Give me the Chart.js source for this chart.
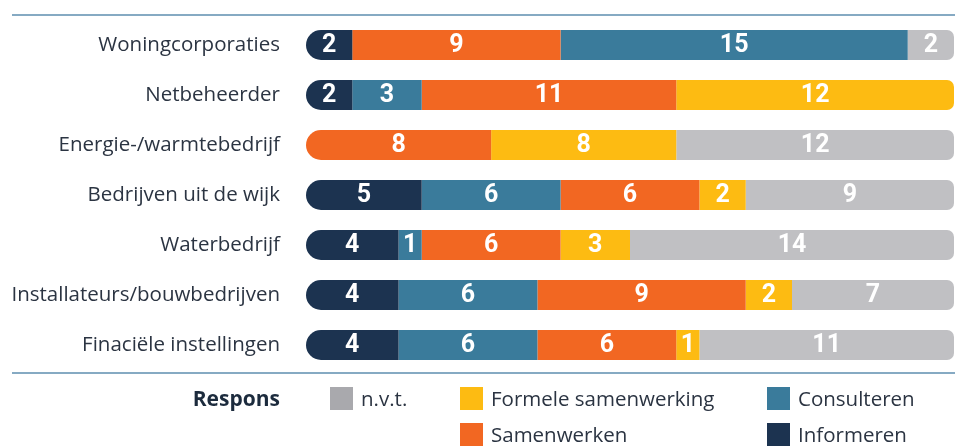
<!DOCTYPE html>
<html>
<head>
<meta charset="utf-8">
<script src="https://cdn.jsdelivr.net/npm/chart.js@4/dist/chart.umd.min.js"></script>
<style>
  body { margin: 0; background: #fff; }
  #wrap { position: relative; width: 955px; height: 446px; overflow: hidden; font-family: "Open Sans", sans-serif; }
  #wrap canvas { position: absolute; left: 0; top: 0; }
  .lijn { position: absolute; left: 12px; right: 0; height: 2px; background: #86aac3; }
  .leg { position: absolute; font-size: 20.5px; color: #2b3442; line-height: 24px; white-space: nowrap; }
  .leg i { position: absolute; width: 23px; height: 23px; left: 0; top: 0; }
  .leg span { position: absolute; top: -1px; white-space: nowrap; }
  #respons { position: absolute; right: 675px; top: 384px; font-weight: bold; font-size: 21px; color: #1c2b3d; }
</style>
</head>
<body>
<div id="wrap">
  <canvas id="grafiek" width="955" height="446"></canvas>
  <div class="lijn" style="top:14px"></div>
  <div class="lijn" style="top:372px"></div>
  <div id="respons">Respons</div>
  <div id="legenda"></div>
</div>
<script>
const categorieen = [
  "Woningcorporaties",
  "Netbeheerder",
  "Energie-/warmtebedrijf",
  "Bedrijven uit de wijk",
  "Waterbedrijf",
  "Installateurs/bouwbedrijven",
  "Finaciële instellingen"
];

const informeren  = [2, 2, 0, 5, 4, 4, 4];
const consulteren = [15, 3, 0, 6, 1, 6, 6];
const samenwerken = [9, 11, 8, 6, 6, 9, 6];
const formeel     = [0, 12, 8, 2, 3, 2, 1];
const nvt         = [2, 0, 12, 9, 14, 7, 11];

const reeksen = {
  inf: { naam: "Informeren", data: informeren, kleur: "#1c3350" },
  con: { naam: "Consulteren", data: consulteren, kleur: "#3a7b9b" },
  sam: { naam: "Samenwerken", data: samenwerken, kleur: "#f26722" },
  frm: { naam: "Formele samenwerking", data: formeel, kleur: "#fdbb12" },
  nvt: { naam: "n.v.t.", data: nvt, kleur: "#c0c0c3" }
};

// volgorde van de segmenten per balk (bij woningcorporaties staat samenwerken voor consulteren)
const standaard = ["inf", "con", "sam", "frm", "nvt"];
const volgorde = categorieen.map((c, i) => i === 0 ? ["inf", "sam", "con", "frm", "nvt"] : standaard);

const datasets = standaard.map((_, slot) => ({
  label: "slot" + slot,
  data: categorieen.map((c, i) => reeksen[volgorde[i][slot]].data[i]),
  backgroundColor: categorieen.map((c, i) => reeksen[volgorde[i][slot]].kleur),
  borderWidth: 0,
  borderSkipped: false,
  borderRadius: ctx => {
    const i = ctx.dataIndex;
    const waarden = volgorde[i].map(k => reeksen[k].data[i]);
    let eerste = waarden.findIndex(v => v > 0);
    let laatste = waarden.length - 1;
    while (laatste > 0 && waarden[laatste] === 0) laatste--;
    const r = { topLeft: 0, bottomLeft: 0, topRight: 0, bottomRight: 0 };
    if (ctx.datasetIndex === eerste) { r.topLeft = 15; r.bottomLeft = 15; }
    if (ctx.datasetIndex === laatste) { r.topRight = 7; r.bottomRight = 7; }
    return r;
  },
  barPercentage: 0.6,
  categoryPercentage: 1
}));

// witte getallen midden in de segmenten
const getallen = {
  id: "getallen",
  afterDatasetsDraw(chart) {
    const ctx = chart.ctx;
    ctx.save();
    ctx.fillStyle = "#fff";
    ctx.font = "bold 25px Roboto, sans-serif";
    ctx.textAlign = "center";
    ctx.textBaseline = "middle";
    chart.data.datasets.forEach((ds, d) => {
      chart.getDatasetMeta(d).data.forEach((bar, i) => {
        const v = ds.data[i];
        if (!v) return;
        ctx.fillText(String(v), (bar.x + bar.base) / 2, bar.y + 1);
      });
    });
    ctx.restore();
  }
};

new Chart(document.getElementById("grafiek"), {
  type: "bar",
  data: { labels: categorieen, datasets: datasets },
  options: {
    indexAxis: "y",
    responsive: false,
    animation: false,
    layout: { padding: { top: 20, bottom: 76, left: 0, right: 1 } },
    plugins: { legend: { display: false }, tooltip: { enabled: false } },
    scales: {
      x: { stacked: true, min: 0, max: 28, display: false },
      y: {
        stacked: true,
        grid: { display: false, drawTicks: false },
        border: { display: false },
        afterFit: s => {
          s.width = 306;
          s.paddingTop = 0;
          s.paddingBottom = 0;
        },
        ticks: {
          padding: 26,
          color: "#2b3442",
          font: { family: "'Open Sans', sans-serif", size: 20.5 }
        }
      }
    }
  },
  plugins: [getallen]
});

// legenda
const legendaItems = [
  { k: "nvt", x: 330, y: 387 },
  { k: "frm", x: 460, y: 387 },
  { k: "con", x: 767, y: 387 },
  { k: "sam", x: 460, y: 423 },
  { k: "inf", x: 767, y: 423 }
];
const leg = document.getElementById("legenda");
legendaItems.forEach(it => {
  const el = document.createElement("div");
  el.className = "leg";
  el.style.left = it.x + "px";
  el.style.top = it.y + "px";
  const kleur = it.k === "nvt" ? "#a9a9ad" : reeksen[it.k].kleur;
  el.innerHTML = '<i style="background:' + kleur + '"></i><span style="left:31px">' + reeksen[it.k].naam + '</span>';
  leg.appendChild(el);
});
</script>
</body>
</html>
